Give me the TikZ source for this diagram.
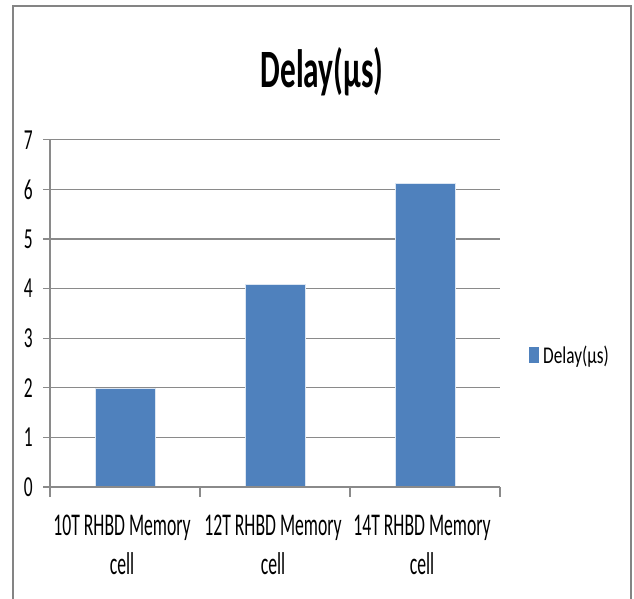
\documentclass[tikz,border=0pt]{standalone}
\usepackage{graphicx}
\usepackage{fontspec}
\setmainfont{Carlito}
\definecolor{barblue}{HTML}{4F81BD}
\definecolor{gridgray}{HTML}{8A8A8A}
\definecolor{framegray}{HTML}{848484}
\newcommand{\sqz}[2]{\scalebox{#1}[1]{#2}}
\tikzset{
  gridline/.style={draw=gridgray, line width=1.3pt},
  bar/.style={fill=barblue, draw=white!80!barblue, line width=0.6pt},
  ylab/.style={anchor=east, inner sep=0pt, font=\fontsize{29}{34}\selectfont},
  catlab/.style={anchor=base, inner sep=0pt, font=\fontsize{31.6}{39}\selectfont},
}
\begin{document}
\begin{tikzpicture}[x=1pt,y=-1pt]
\useasboundingbox (0,0) rectangle (634,598);
% frame
\draw[framegray, line width=2pt] (13,600) -- (13,6) -- (631,6) -- (631,600);
% title
\node[anchor=base, inner sep=0pt, font=\fontsize{54}{60}\selectfont\bfseries] (title) at (322,87) {\sqz{0.58}{Delay(µs)}};
% gridlines
\foreach \v in {1,...,7} {
  \draw[gridline] (43,{487-49.6*\v}) -- (500,{487-49.6*\v});
}
% bars
\fill[bar] (95,487) rectangle (155,{487-49.6*2.0});
\fill[bar] (245,487) rectangle (305,{487-49.6*4.08});
\fill[bar] (395,487) rectangle (455,{487-49.6*6.12});
% axes
\draw[gridline] (50,{487-49.6*7}) -- (50,497);
\draw[gridline] (43,487) -- (500,487);
\foreach \x in {200,350,500} { \draw[gridline] (\x,487) -- (\x,497); }
% y labels
\foreach \v in {0,...,7} {
  \node[ylab] (y\v) at (33,{487-49.6*\v}) {\sqz{0.6}{\v}};
}
% category labels
\node[catlab] (c1) at (122,535) {\sqz{0.56}{\begin{tabular}[t]{@{}c@{}}10T RHBD Memory\\cell\end{tabular}}};
\node[catlab] (c2) at (273,535) {\sqz{0.56}{\begin{tabular}[t]{@{}c@{}}12T RHBD Memory\\cell\end{tabular}}};
\node[catlab] (c3) at (422,535) {\sqz{0.56}{\begin{tabular}[t]{@{}c@{}}14T RHBD Memory\\cell\end{tabular}}};
% legend
\fill[barblue] (529,347) rectangle (539,363);
\node[anchor=base west, inner sep=0pt, font=\fontsize{24}{28}\selectfont] (leg) at (543,363) {\sqz{0.72}{Delay(µs)}};
\end{tikzpicture}
\end{document}
